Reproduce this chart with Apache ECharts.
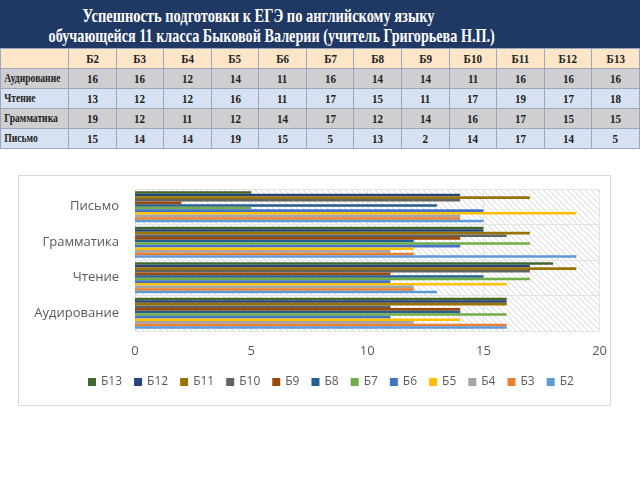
<!DOCTYPE html>
<html><head><meta charset="utf-8">
<script src="https://cdn.jsdelivr.net/npm/echarts@6/dist/echarts.min.js"></script>
<style>
html,body{margin:0;padding:0;width:640px;height:480px;background:#fff;overflow:hidden;}
#title{position:absolute;left:0;top:0;width:640px;height:48px;background:#1f3864;}
.tl{position:absolute;white-space:nowrap;color:#fff;font-family:"Liberation Serif",serif;font-weight:bold;font-size:19px;transform-origin:center center;}
#tbl{position:absolute;left:0;top:48px;border-collapse:collapse;table-layout:fixed;width:640px;}
#tbl td{border:1px solid #9aa7bd;padding:0;text-align:center;font-family:"Liberation Serif",serif;font-weight:bold;font-size:13px;color:#222;overflow:hidden;white-space:nowrap;}
#tbl td span{display:inline-block;transform:scaleX(0.85);}
#tbl td.lab{text-align:left;font-size:12px;}
#tbl td.lab span{transform-origin:left center;transform:scaleX(0.8);padding-left:4px;}
#box{position:absolute;left:18px;top:175px;width:591px;height:229px;border:1px solid #d9d9d9;}
#chart{width:591px;height:229px;}
</style></head>
<body>
<div id="title">
  <div class="tl" id="t1">Успешность подготовки к ЕГЭ по английскому языку</div>
  <div class="tl" id="t2">обучающейся 11 класса Быковой Валерии (учитель Григорьева Н.П.)</div>
</div>
<table id="tbl"></table>
<div id="box"><div id="chart"></div></div>
<script>
var categories = ['Аудирование', 'Чтение', 'Грамматика', 'Письмо'];
var students = ['Б2','Б3','Б4','Б5','Б6','Б7','Б8','Б9','Б10','Б11','Б12','Б13'];
// values per student, in order of categories
var b2  = [16, 13, 19, 15];
var b3  = [16, 12, 12, 14];
var b4  = [12, 12, 11, 14];
var b5  = [14, 16, 12, 19];
var b6  = [11, 11, 14, 15];
var b7  = [16, 17, 17, 5];
var b8  = [14, 15, 12, 13];
var b9  = [14, 11, 14, 2];
var b10 = [11, 17, 16, 14];
var b11 = [16, 19, 17, 17];
var b12 = [16, 17, 15, 14];
var b13 = [16, 18, 15, 5];
var xTicks = [0, 5, 10, 15, 20];
var colors = ['#5b9bd5','#ed7d31','#a5a5a5','#ffc000','#4472c4','#70ad47','#255e91','#9e480e','#636363','#997300','#264478','#43682b'];
var values = [b2,b3,b4,b5,b6,b7,b8,b9,b10,b11,b12,b13];

function fit(id, cx, cy, w){
  var el=document.getElementById(id);
  var ow=el.offsetWidth, oh=el.offsetHeight;
  el.style.left=(cx-ow/2)+'px'; el.style.top=(cy-oh/2)+'px';
  el.style.transform='scaleX('+(w/ow)+')';
}
fit('t1', 258, 16, 352);
fit('t2', 271, 36, 446);

var tbl=document.getElementById('tbl');
var colg='<colgroup><col style="width:68px">';
for(var i=0;i<students.length;i++) colg+='<col>';
colg+='</colgroup>';
var html=colg+'<tr style="height:20px;background:#fde5c8"><td></td>';
students.forEach(function(s){html+='<td><span>'+s+'</span></td>';});
html+='</tr>';
var rowBg=['#cfcfd1','#d7e1f1','#cfcfd1','#d7e1f1'];
categories.forEach(function(c,ci){
  html+='<tr style="height:20px;background:'+rowBg[ci]+'"><td class="lab"><span>'+c+'</span></td>';
  values.forEach(function(v){html+='<td><span>'+v[ci]+'</span></td>';});
  html+='</tr>';
});
tbl.innerHTML=html;

var pc=document.createElement('canvas'); pc.width=6; pc.height=6;
var pctx=pc.getContext('2d');
pctx.fillStyle='#ffffff'; pctx.fillRect(0,0,6,6);
pctx.strokeStyle='#d6d6d6'; pctx.lineWidth=1;
pctx.beginPath(); pctx.moveTo(0,0); pctx.lineTo(6,6); pctx.moveTo(-3,3); pctx.lineTo(3,9); pctx.moveTo(3,-3); pctx.lineTo(9,3); pctx.stroke();

var chart=echarts.init(document.getElementById('chart'));
var series=[];
for(var k=students.length-1;k>=0;k--){
  series.push({name:students[k],type:'bar',data:values[k],itemStyle:{color:colors[k]},barGap:'0%',barCategoryGap:'12%',animation:false});
}
chart.setOption({
  animation:false,
  grid:{left:116,right:5,top:13,bottom:74,show:true,borderWidth:0,backgroundColor:{image:pc,repeat:'repeat'}},
  xAxis:{type:'value',min:xTicks[0],max:xTicks[xTicks.length-1],interval:5,
    axisLine:{show:false},axisTick:{show:false},
    splitLine:{lineStyle:{color:'#e3e3e3'}},
    axisLabel:{color:'#595959',fontSize:13,fontFamily:'Open Sans',margin:14}},
  yAxis:{type:'category',data:categories,
    axisLine:{show:false},axisTick:{show:false},
    splitLine:{show:true,lineStyle:{color:'#e3e3e3'}},
    axisLabel:{color:'#595959',fontSize:13,fontFamily:'Open Sans',margin:16}},
  legend:{data:students.slice().reverse(),bottom:12,left:64,itemWidth:8,itemHeight:8,itemGap:12,icon:'rect',
    textStyle:{color:'#595959',fontSize:12,fontFamily:'Open Sans'}},
  series:series
});
</script>
</body></html>
